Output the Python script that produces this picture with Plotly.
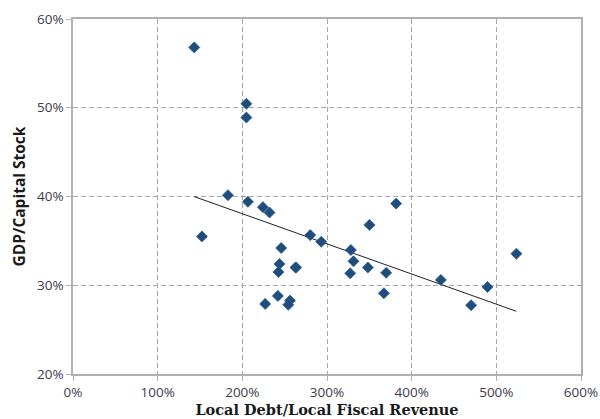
import numpy as np
import plotly.graph_objects as go

# Local debt / local fiscal revenue (%) and GDP / capital stock (%) by region
debt_ratio = [143.2, 204.8, 204.8, 183.0, 206.6, 224.3, 232.1, 152.3, 245.9, 243.9,
              242.7, 263.6, 242.0, 227.0, 256.3, 254.3, 280.2, 293.2, 328.2, 331.3,
              327.4, 348.3, 350.2, 381.7, 369.9, 367.2, 434.5, 470.2, 489.5, 523.7,
              262.8]
gdp_capital = [56.8, 50.45, 48.9, 40.15, 39.4, 38.8, 38.2, 35.5, 34.2, 32.4,
               31.5, 32.0, 28.8, 27.9, 28.27, 27.8, 35.65, 34.9, 33.97, 32.7,
               31.35, 32.0, 36.8, 39.2, 31.4, 29.1, 30.6, 27.75, 29.8, 33.55,
               32.0]

x_ticks = [0, 100, 200, 300, 400, 500, 600]
y_ticks = [20, 30, 40, 50, 60]

# Linear trend fitted over the data range
xs = np.array(debt_ratio)
ys = np.array(gdp_capital)
slope, intercept = np.polyfit(xs, ys, 1)
trend_x = np.array([xs.min(), xs.max()])
trend_y = slope * trend_x + intercept

fig = go.Figure()
fig.add_trace(go.Scatter(
    x=trend_x, y=trend_y, mode="lines",
    line=dict(color="#222222", width=1), hoverinfo="skip", showlegend=False,
))
fig.add_trace(go.Scatter(
    x=debt_ratio, y=gdp_capital, mode="markers",
    marker=dict(symbol="diamond", size=8.5, color="#1F4E7D",
                line=dict(color="#2F5F90", width=0.8)),
    showlegend=False,
))

grid = dict(
    showgrid=True, gridcolor="#A6A6A6", gridwidth=1, griddash="5px,3px",
    showline=True, linecolor="#B0B0B0", linewidth=1.5, mirror=True,
    ticks="outside", ticklen=5, tickcolor="#B0B0B0", tickwidth=1,
    zeroline=False, automargin=False,
    tickfont=dict(family="Open Sans", size=13.5, color="#3C3C4C"),
)

fig.update_xaxes(
    range=[0, 600], tickvals=x_ticks, ticktext=[f"{v}%" for v in x_ticks],
    title=dict(text="<b>Local Debt/Local Fiscal Revenue</b>",
               font=dict(family="DejaVu Serif", size=14.5, color="#1A1A1A"),
               standoff=4),
    **grid,
)
fig.update_yaxes(
    range=[20, 60], tickvals=y_ticks, ticktext=[f"{v}%" for v in y_ticks],
    title=dict(text="<b>GDP/Capital Stock</b>",
               font=dict(family="Open Sans", size=15.5, color="#1A1A1A"),
               standoff=8),
    **grid,
)

fig.update_layout(
    width=600, height=419,
    margin=dict(l=73, r=19, t=19, b=45),
    paper_bgcolor="white", plot_bgcolor="white",
)

fig.write_html("out.html")
